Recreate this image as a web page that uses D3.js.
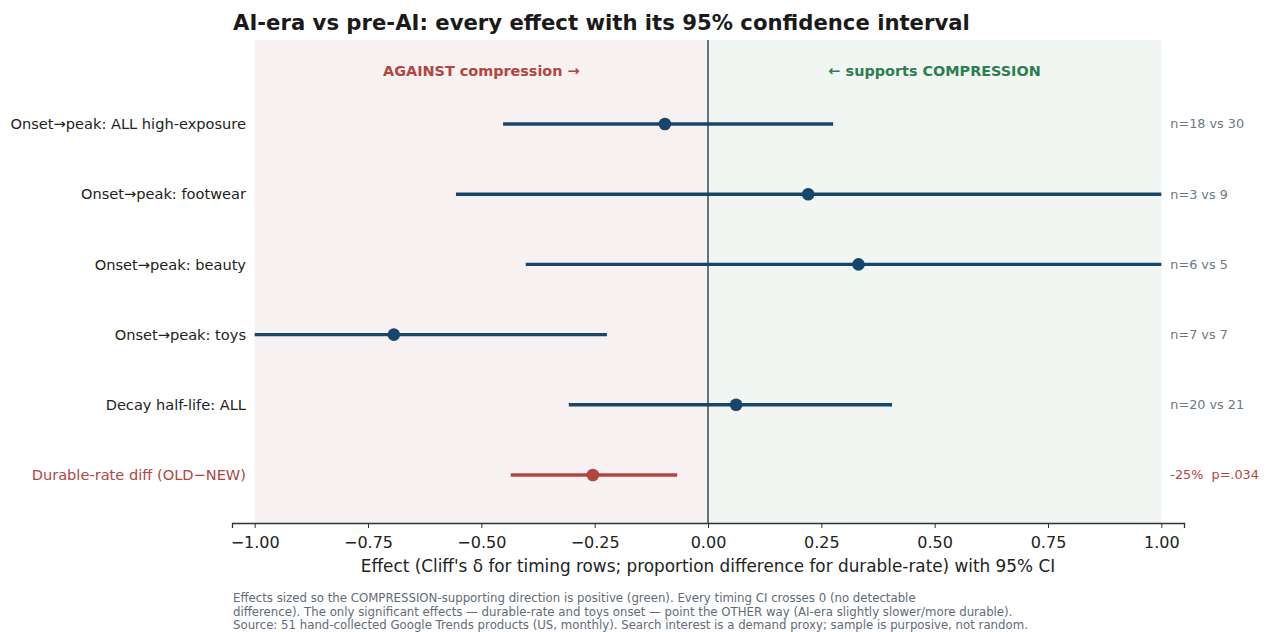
<!DOCTYPE html>
<html><head><meta charset="utf-8">
<script src="https://cdn.jsdelivr.net/npm/d3@7/dist/d3.min.js"></script>
<style>body{margin:0;background:#fff}svg{display:block;font-family:"DejaVu Sans",sans-serif}text{white-space:pre}</style>
</head><body><svg id="c" width="1267" height="632"></svg>
<script>
const labels = ["Onset\u2192peak: ALL high-exposure","Onset\u2192peak: footwear","Onset\u2192peak: beauty","Onset\u2192peak: toys","Decay half-life: ALL","Durable-rate diff (OLD\u2212NEW)"];
const effects = [-0.095, 0.221, 0.332, -0.693, 0.062, -0.254];
const ciLow  = [-0.452, -0.556, -0.402, -1.0, -0.307, -0.435];
const ciHigh = [0.276, 1.0, 1.0, -0.223, 0.406, -0.068];
const notes = ["n=18 vs 30","n=3 vs 9","n=6 vs 5","n=7 vs 7","n=20 vs 21","-25%  p=.034"];
const highlight = [false,false,false,false,false,true];
const xTicks = [-1,-0.75,-0.5,-0.25,0,0.25,0.5,0.75,1];

const svg = d3.select("#c");
const L=232, R=1184, T=40, B=523;
const x = d3.scaleLinear().domain([-1.05,1.05]).range([L,R]);
const y = d3.scaleLinear().domain([0,5]).range([124,475]);
const BLUE="#17466b", RED="#b0463f";

svg.append("rect").attr("x",x(-1)).attr("y",T).attr("width",x(0)-x(-1)).attr("height",B-T).attr("fill","#f7f1f1");
svg.append("rect").attr("x",x(0)).attr("y",T).attr("width",x(1)-x(0)).attr("height",B-T).attr("fill","#f1f6f2");
svg.append("line").attr("x1",x(0)).attr("x2",x(0)).attr("y1",T).attr("y2",B).attr("stroke","#2c3e50").attr("stroke-width",1.4);

svg.append("text").attr("x",x(-0.5)).attr("y",y(-0.755)).attr("dy","0.35em").attr("text-anchor","middle").attr("font-weight","bold").attr("font-size",14.4).attr("fill",RED).text("AGAINST compression \u2192");
svg.append("text").attr("x",x(0.5)).attr("y",y(-0.755)).attr("dy","0.35em").attr("text-anchor","middle").attr("font-weight","bold").attr("font-size",14.4).attr("fill","#2e7d50").text("\u2190 supports COMPRESSION");

const g = svg.append("g");
labels.forEach((d,i)=>{
  const c = highlight[i]?RED:BLUE;
  g.append("line").attr("x1",x(ciLow[i])).attr("x2",x(ciHigh[i])).attr("y1",y(i)).attr("y2",y(i)).attr("stroke",c).attr("stroke-width",3.4);
  g.append("circle").attr("cx",x(effects[i])).attr("cy",y(i)).attr("r",6.3).attr("fill",c);
  svg.append("text").attr("x",246).attr("y",y(i)).attr("dy","0.35em").attr("text-anchor","end").attr("font-size",14.6).attr("fill",highlight[i]?RED:"#222").text(d);
  svg.append("text").attr("x",x(1)+9).attr("y",y(i)).attr("dy","0.35em").attr("font-size",12.8).attr("fill",highlight[i]?RED:"#6b7785").text(notes[i]);
});

const ax = svg.append("g").attr("transform",`translate(0,${B})`)
  .call(d3.axisBottom(x).tickValues(xTicks).tickFormat(d=>d3.format(".2f")(d).replace("-","\u2212")).tickSizeOuter(0).tickSize(5).tickPadding(9));
ax.select(".domain").attr("stroke","#333").attr("stroke-width",1.3);
ax.selectAll(".tick line").attr("stroke","#333");
ax.selectAll("text").attr("font-size",16).attr("fill","#222").attr("font-family","DejaVu Sans");

svg.append("text").attr("x",x(0)).attr("y",572).attr("text-anchor","middle").attr("font-size",16.85).attr("fill","#222").text("Effect (Cliff's \u03b4 for timing rows; proportion difference for durable-rate) with 95% CI");

svg.append("text").attr("x",233).attr("y",30).attr("font-size",21.2).attr("font-weight","bold").attr("fill","#1a1a1a").text("AI-era vs pre-AI: every effect with its 95% confidence interval");

const foot = ["Effects sized so the COMPRESSION-supporting direction is positive (green). Every timing CI crosses 0 (no detectable",
"difference). The only significant effects \u2014 durable-rate and toys onset \u2014 point the OTHER way (AI-era slightly slower/more durable).",
"Source: 51 hand-collected Google Trends products (US, monthly). Search interest is a demand proxy; sample is purposive, not random."];
foot.forEach((t,i)=>svg.append("text").attr("x",233).attr("y",602+i*13.5).attr("font-size",11.75).attr("fill","#5f6b78").text(t));
</script></body></html>
